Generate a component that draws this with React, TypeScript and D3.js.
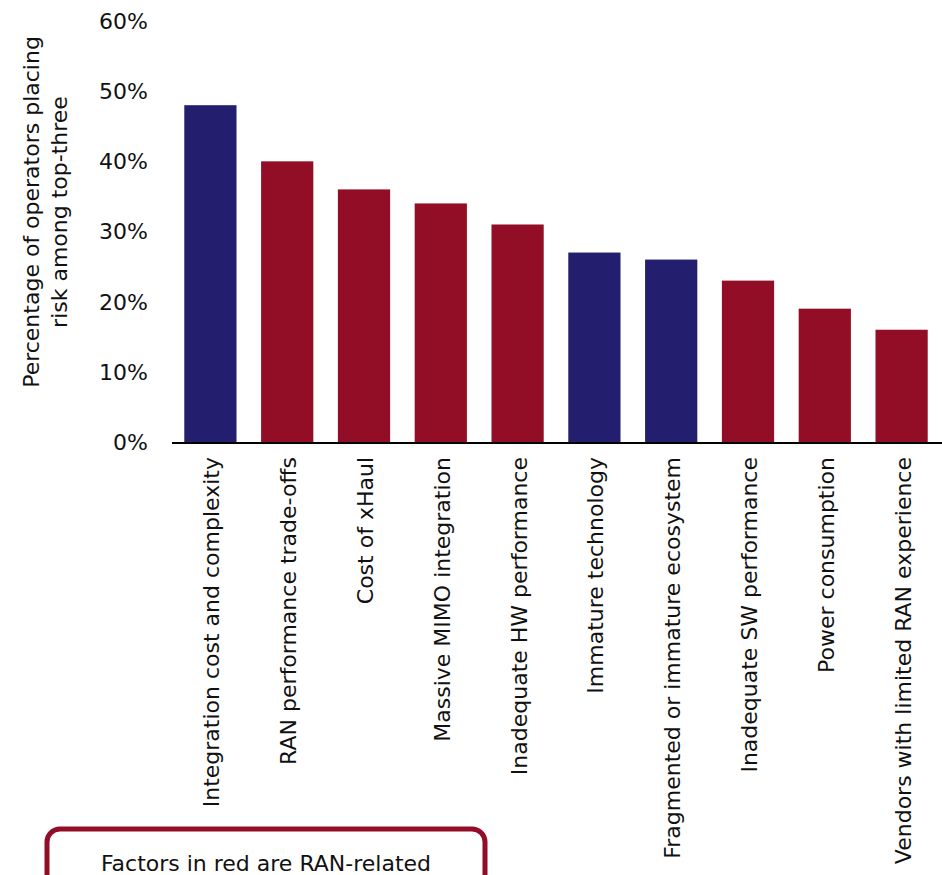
import React from "react";
import * as d3 from "d3";

const categories = [
  "Integration cost and complexity",
  "RAN performance trade-offs",
  "Cost of xHaul",
  "Massive MIMO integration",
  "Inadequate HW performance",
  "Immature technology",
  "Fragmented or immature ecosystem",
  "Inadequate SW performance",
  "Power consumption",
  "Vendors with limited RAN experience",
];
const values = [48, 40, 36, 34, 31, 27, 26, 23, 19, 16];
const ranRelated = [false, true, true, true, true, false, false, true, true, true];
const yTicks = [0, 10, 20, 30, 40, 50, 60];
const yTitle = ["Percentage of operators placing", "risk among top-three"];
const legendText = "Factors in red are RAN-related";

const NAVY = "#231F6E";
const RED = "#920E26";
const FONT = "'DejaVu Sans', sans-serif";
const FS = 22;

export default function App() {
  const W = 942, H = 875;
  const x = d3.scaleBand<string>().domain(categories).range([172, 940]).paddingInner(0.32).paddingOuter(0.16);
  const y = d3.scaleLinear().domain([0, 60]).range([442, 21]);
  return (
    <svg width={W} height={H} style={{ position: "absolute", left: 0, top: 0 }} fontFamily={FONT}>
      {categories.map((c, i) => (
        <rect key={c} x={x(c)} y={y(values[i])} width={x.bandwidth()} height={y(0) - y(values[i])}
          fill={ranRelated[i] ? RED : NAVY} />
      ))}
      <line x1={172} x2={942} y1={y(0) + 1} y2={y(0) + 1} stroke="#000" strokeWidth={2} />
      {yTicks.map((t) => (
        <text key={t} x={148} y={y(t)} dy="0.36em" textAnchor="end" fontSize={FS} fill="#111">{t}%</text>
      ))}
      {categories.map((c) => (
        <text key={c} transform={`translate(${x(c)! + x.bandwidth() / 2 + 1},457) rotate(-90)`}
          textAnchor="end" dy="0.36em" fontSize={FS} fill="#111">{c}</text>
      ))}
      {yTitle.map((t, i) => (
        <text key={t} transform={`translate(${39 + i * 28},212) rotate(-90)`} textAnchor="middle"
          fontSize={FS} fill="#111">{t}</text>
      ))}
      <rect x={47} y={829} width={438} height={80} rx={13} ry={13} fill="#fff" stroke={RED} strokeWidth={5} />
      <text x={266} y={871} textAnchor="middle" fontSize={FS} fill="#111">{legendText}</text>
    </svg>
  );
}
